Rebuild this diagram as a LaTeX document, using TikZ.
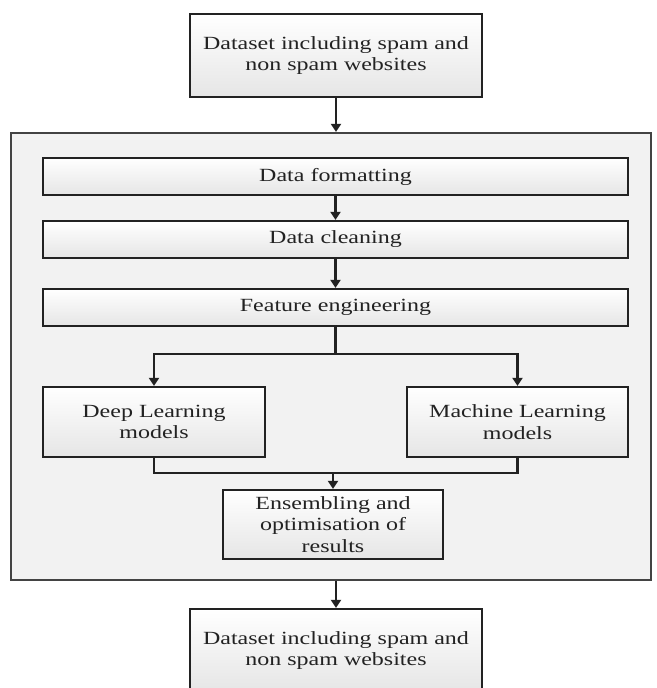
\documentclass[tikz,border=0pt]{standalone}
\usepackage{fontspec}
\setmainfont{Liberation Serif}[FakeStretch=1.29]
\usetikzlibrary{arrows.meta}
\definecolor{edge}{HTML}{222222}
\definecolor{bigfill}{HTML}{F2F2F2}
\tikzset{
  boxstyle/.style={draw=edge, line width=2.2pt, inner sep=0pt, align=center, text=edge,
    top color=white, bottom color=black!10,
    font=\fontsize{18.6pt}{21.5pt}\selectfont},
  bigbox/.style={draw=edge!85, line width=2.2pt, inner sep=0pt, fill=bigfill},
  conn/.style={draw=edge, line width=2.2pt},
  arr/.style={conn, -{Triangle[length=8pt,width=10pt]}},
}
\begin{document}
\begin{tikzpicture}[x=1pt,y=-1pt]
\useasboundingbox (0,0) rectangle (656,688);
\fill[white] (0,0) rectangle (656,688);
\begin{scope}
\clip (0,0) rectangle (656,688);
\node[bigbox, minimum width=640pt, minimum height=447pt] (big) at (331,356.5) {};
\node[boxstyle, minimum width=292pt, minimum height=83pt] (top) at (336,55.5) {Dataset including spam and\\non spam websites};
\node[boxstyle, minimum width=585pt, minimum height=37pt] (fmt) at (335.5,176.5) {Data formatting};
\node[boxstyle, minimum width=585pt, minimum height=37pt] (clean) at (335.5,239.5) {Data cleaning};
\node[boxstyle, minimum width=585pt, minimum height=37pt] (feat) at (335.5,307.5) {Feature engineering};
\node[boxstyle, minimum width=222pt, minimum height=70pt] (dl) at (154,422) {Deep Learning\\models};
\node[boxstyle, minimum width=221pt, minimum height=70pt] (ml) at (517.5,422) {Machine Learning\\models};
\node[boxstyle, minimum width=220pt, minimum height=69pt] (ens) at (333,524.5) {Ensembling and\\optimisation of\\results};
\node[boxstyle, minimum width=292pt, minimum height=83pt] (bot) at (336,650.5) {Dataset including spam and\\non spam websites};
\coordinate (s) at (335.5,354);
\coordinate (j) at (333,473);
\draw[arr] (top.south) -- (top.south |- big.north);
\draw[arr] (fmt.south) -- (clean.north);
\draw[arr] (clean.south) -- (feat.north);
\draw[conn] (feat.south) -- (s);
\draw[arr] (s) -| (dl.north);
\draw[arr] (s) -| (ml.north);
\draw[conn] (dl.south) -- (dl.south |- j) -- (ml.south |- j) -- (ml.south);
\draw[arr] (j) -- (ens.north);
\draw[arr] (bot.north |- big.south) -- (bot.north);
\end{scope}
\end{tikzpicture}
\end{document}
